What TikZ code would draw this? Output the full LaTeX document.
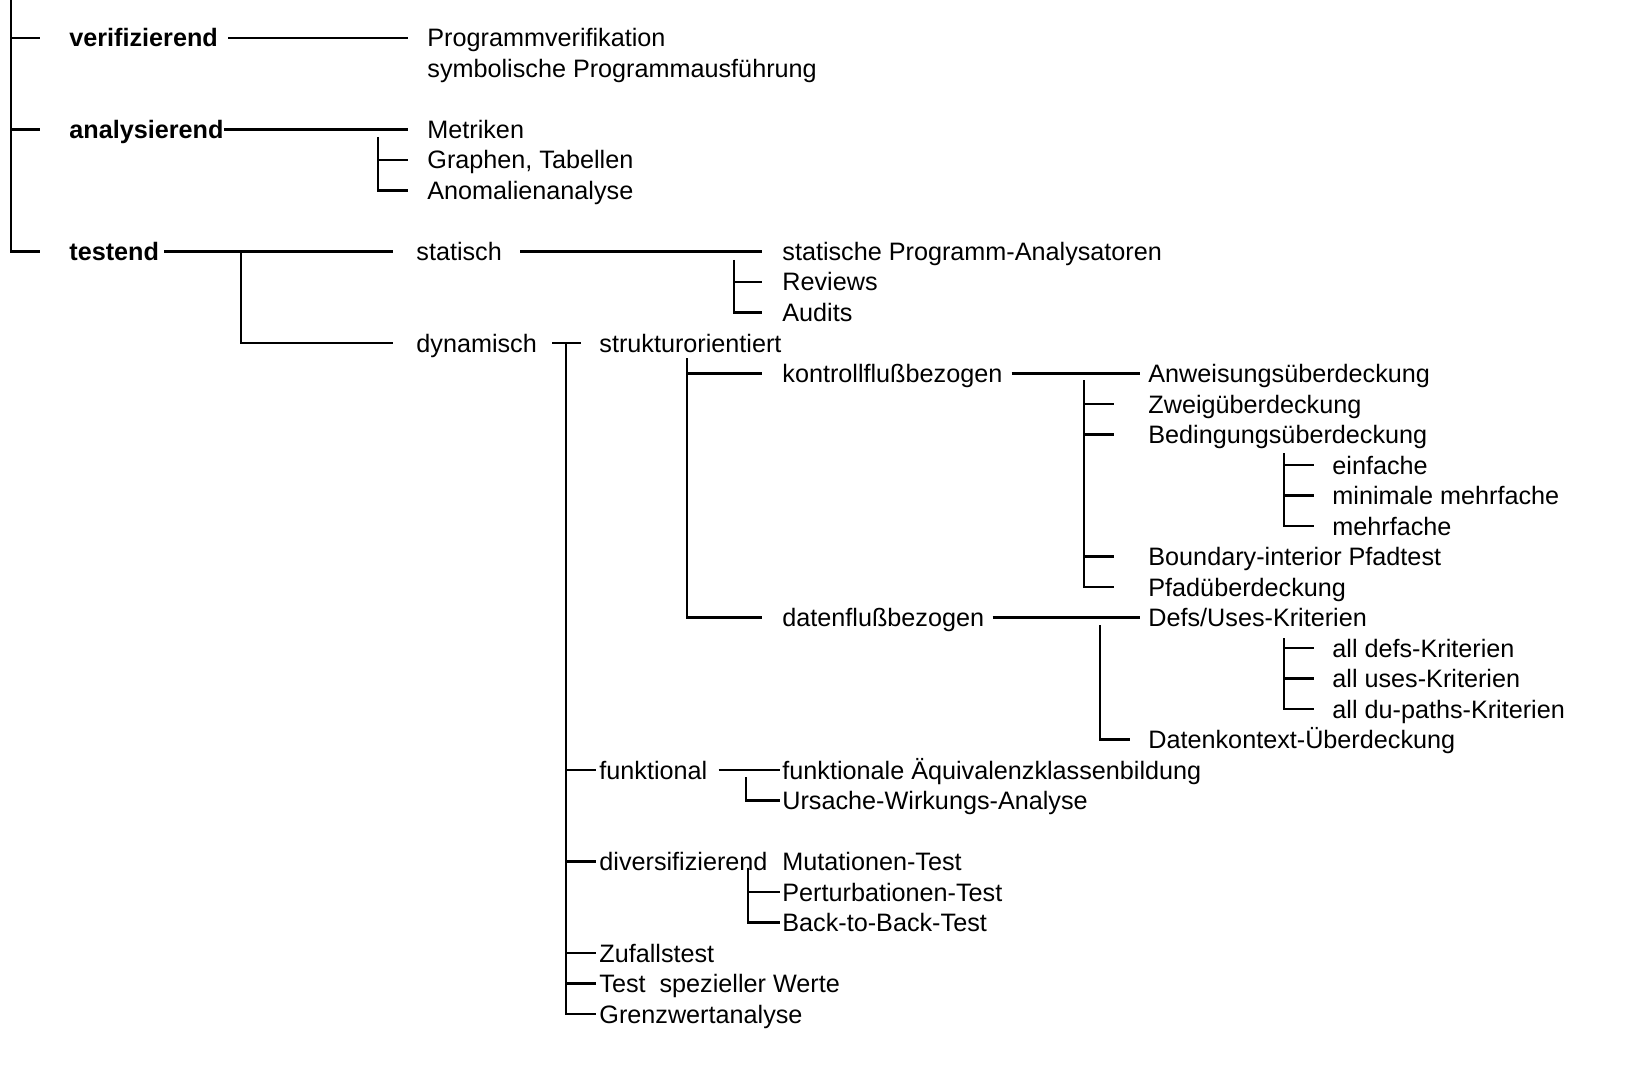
\documentclass[tikz,border=0pt]{standalone}
\usepackage{fontspec}
\setmainfont{Liberation Sans}
\usetikzlibrary{positioning,calc}
\tikzset{%
  itemText/.style={%
    anchor=west,
    inner sep=0pt,
    text height=9pt,
    text depth=0pt,
    font=\fontsize{12.6}{15}\selectfont
  },
  mainText/.style={%
    itemText,
    font=\fontsize{12.6}{15}\selectfont\bfseries
  },
  treeLine/.style={%
    line width=1.2pt,
    color=black
  }
}

\begin{document}
\begin{tikzpicture}[x=0.5pt,y=-0.5pt]
  \useasboundingbox (0,0) rectangle (1644,1075);

  % main branches
  \node[mainText] (verif) at (69,38) {verifizierend};
  \node[mainText] (analys) at (69,129.5) {analysierend};
  \node[mainText] (testend) at (69,251.5) {testend};

  \node[itemText] (progVerif) at (427,38) {Programmverifikation};
  \node[itemText] (symbAusf) at (427,68.5) {symbolische Programmausführung};
  \node[itemText] (metriken) at (427,129.5) {Metriken};
  \node[itemText] (graphen) at (427,160) {Graphen, Tabellen};
  \node[itemText] (anomalie) at (427,190.5) {Anomalienanalyse};
  \node[itemText] (statisch) at (416,251.5) {statisch};
  \node[itemText] (dynamisch) at (416,343) {dynamisch};

  \node[itemText] (progAnaly) at (782,251.5) {statische Programm-Analysatoren};
  \node[itemText] (reviews) at (782,282) {Reviews};
  \node[itemText] (audits) at (782,312.5) {Audits};
  \node[itemText] (struktur) at (599,343) {strukturorientiert};
  \node[itemText] (funktional) at (599,770) {funktional};
  \node[itemText] (divers) at (599,861.5) {diversifizierend};
  \node[itemText] (zufall) at (599,953) {Zufallstest};
  \node[itemText] (testSpez) at (599,983.5) {Test~~spezieller Werte};
  \node[itemText] (grenzwert) at (599,1014) {Grenzwertanalyse};

  \node[itemText] (kontroll) at (782,373.5) {kontrollflußbezogen};
  \node[itemText] (datenfluss) at (782,617.5) {datenflußbezogen};
  \node[itemText] (aequiv) at (782,770) {funktionale Äquivalenzklassenbildung};
  \node[itemText] (ursache) at (782,800.5) {Ursache-Wirkungs-Analyse};
  \node[itemText] (mutation) at (782,861.5) {Mutationen-Test};
  \node[itemText] (perturb) at (782,892) {Perturbationen-Test};
  \node[itemText] (backToBack) at (782,922.5) {Back-to-Back-Test};

  \node[itemText] (anweisung) at (1148,373.5) {Anweisungsüberdeckung};
  \node[itemText] (zweig) at (1148,404) {Zweigüberdeckung};
  \node[itemText] (bedingung) at (1148,434.5) {Bedingungsüberdeckung};
  \node[itemText] (boundary) at (1148,556.5) {Boundary-interior Pfadtest};
  \node[itemText] (pfad) at (1148,587) {Pfadüberdeckung};
  \node[itemText] (defsUses) at (1148,617.5) {Defs/Uses-Kriterien};
  \node[itemText] (datenkontext) at (1148,739.5) {Datenkontext-Überdeckung};

  \node[itemText] (einfach) at (1332,465) {einfache};
  \node[itemText] (minimal) at (1332,495.5) {minimale mehrfache};
  \node[itemText] (mehrfach) at (1332,526) {mehrfache};
  \node[itemText] (allDefs) at (1332,648) {all defs-Kriterien};
  \node[itemText] (allUses) at (1332,678.5) {all uses-Kriterien};
  \node[itemText] (allDu) at (1332,709) {all du-paths-Kriterien};

  % fork points
  \coordinate (rootTop) at (11,0);
  \coordinate (anaFork) at (378,137);
  \coordinate (testFork) at (241,251.5);
  \coordinate (statFork) at (734,260);
  \coordinate (dynFork) at (566,343);
  \coordinate (strukFork) at (687,358);
  \coordinate (kontrFork) at (1084,380);
  \coordinate (bedFork) at (1284,453);
  \coordinate (datenFork) at (1100,625);
  \coordinate (defsFork) at (1284,638);
  \coordinate (funkFork) at (746,777);
  \coordinate (divFork) at (748,868);

  % connectors
  \draw[treeLine] (rootTop) |- ($(testend.west)+(-29,0)$);
  \foreach \n in {verif,analys}
    \draw[treeLine] (rootTop |- \n) -- ($(\n.west)+(-29,0)$);

  \draw[treeLine] ($(verif.east)+(10,0)$) -- ($(progVerif.west)+(-19,0)$);
  \draw[treeLine] (analys.east) -- ($(metriken.west)+(-19,0)$);
  \draw[treeLine] (anaFork) |- ($(anomalie.west)+(-19,0)$);
  \draw[treeLine] (anaFork |- graphen) -- ($(graphen.west)+(-19,0)$);

  \draw[treeLine] ($(testend.east)+(5,0)$) -- ($(statisch.west)+(-23,0)$);
  \draw[treeLine] (testFork) |- ($(dynamisch.west)+(-23,0)$);

  \draw[treeLine] ($(statisch.east)+(18,0)$) -- ($(progAnaly.west)+(-20,0)$);
  \draw[treeLine] (statFork) |- ($(audits.west)+(-20,0)$);
  \draw[treeLine] (statFork |- reviews) -- ($(reviews.west)+(-20,0)$);

  \draw[treeLine] ($(dynamisch.east)+(15,0)$) -- ($(struktur.west)+(-18,0)$);
  \draw[treeLine] (dynFork) |- ($(grenzwert.west)+(-3,0)$);
  \foreach \n in {funktional,divers,zufall,testSpez}
    \draw[treeLine] (dynFork |- \n) -- ($(\n.west)+(-3,0)$);

  \draw[treeLine] (strukFork) |- ($(datenfluss.west)+(-20,0)$);
  \draw[treeLine] (strukFork |- kontroll) -- ($(kontroll.west)+(-20,0)$);

  \draw[treeLine] ($(kontroll.east)+(9,0)$) -- ($(anweisung.west)+(-8,0)$);
  \draw[treeLine] (kontrFork) |- ($(pfad.west)+(-34,0)$);
  \foreach \n in {zweig,bedingung,boundary}
    \draw[treeLine] (kontrFork |- \n) -- ($(\n.west)+(-34,0)$);

  \draw[treeLine] (bedFork) |- ($(mehrfach.west)+(-18,0)$);
  \foreach \n in {einfach,minimal}
    \draw[treeLine] (bedFork |- \n) -- ($(\n.west)+(-18,0)$);

  \draw[treeLine] ($(datenfluss.east)+(8,0)$) -- ($(defsUses.west)+(-8,0)$);
  \draw[treeLine] (datenFork) |- ($(datenkontext.west)+(-18,0)$);

  \draw[treeLine] (defsFork) |- ($(allDu.west)+(-18,0)$);
  \foreach \n in {allDefs,allUses}
    \draw[treeLine] (defsFork |- \n) -- ($(\n.west)+(-18,0)$);

  \draw[treeLine] ($(funktional.east)+(11,0)$) -- ($(aequiv.west)+(-2,0)$);
  \draw[treeLine] (funkFork) |- ($(ursache.west)+(-2,0)$);

  \draw[treeLine] (divFork) |- ($(backToBack.west)+(-2,0)$);
  \draw[treeLine] (divFork |- perturb) -- ($(perturb.west)+(-2,0)$);
\end{tikzpicture}
\end{document}
